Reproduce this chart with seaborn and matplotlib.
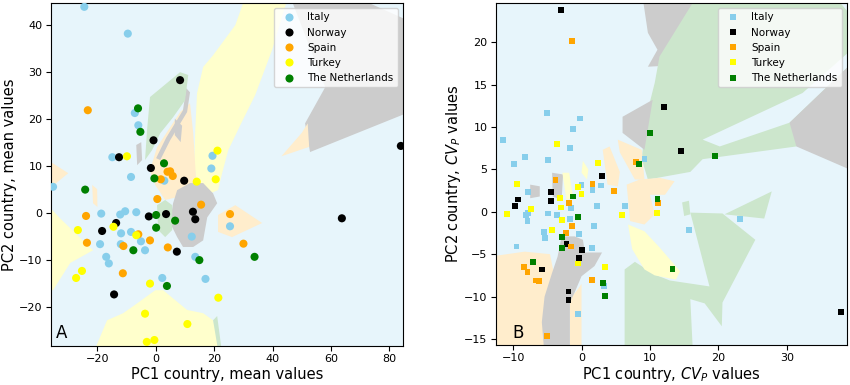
import numpy as np
import pandas as pd
import matplotlib
matplotlib.use("Agg")
import matplotlib.pyplot as plt
import matplotlib.colors as mcolors
import seaborn as sns

countries = ["Italy", "Norway", "Spain", "Turkey", "The Netherlands"]
colors = ["skyblue", "black", "orange", "yellow", "green"]

# ---- Panel A: PC scores, mean values ----
italy_mean = [(-24.5, 43.8), (-9.6, 38.1), (-7.2, 21.2), (-6.0, 18.6), (-14.9, 11.8), (19.4, 12.1),
              (19.0, 9.4), (2.9, 6.8), (-35.2, 5.5), (-8.5, 7.6), (-18.7, -0.2), (-12.2, -0.4),
              (-10.5, 0.3), (-6.7, 0.1), (12.3, -5.1), (13.5, -9.4), (-11.9, -4.4), (-8.5, -4.1),
              (-5.1, -6.1), (-3.7, -8.0), (-19.1, -6.7), (-12.0, -6.7), (-17.0, -9.4), (-16.1, -10.8),
              (2.2, -13.9), (17.0, -14.1), (25.4, -2.9)]
norway_mean = [(8.3, 28.2), (-0.8, 15.4), (-12.6, 11.8), (-1.7, 9.5), (9.7, 6.8), (-2.4, -0.8),
               (3.5, -0.3), (12.7, 0.2), (13.5, -1.4), (7.2, -8.3), (-18.4, -3.9), (-13.6, -2.2),
               (-14.3, -17.4), (63.7, -1.2), (83.9, 14.2)]
spain_mean = [(-23.3, 21.8), (4.0, 8.7), (4.9, 8.8), (5.8, 7.8), (1.7, 7.1), (0.5, 2.9), (-23.9, -0.7),
              (15.5, 1.7), (4.1, -7.4), (-6.0, -4.6), (-2.0, -5.9), (-23.6, -6.4), (-11.1, -7.1),
              (-11.3, -12.9), (25.4, -0.3), (30.0, -6.6)]
turkey_mean = [(-9.9, 12.0), (21.1, 13.2), (20.5, 7.1), (14.0, 6.6), (-26.7, -3.7), (-14.5, -3.0),
               (-6.7, -4.8), (-25.3, -12.4), (-27.3, -13.9), (-2.0, -15.1), (21.4, -18.1),
               (-3.7, -21.5), (10.8, -23.7), (-3.1, -27.5), (-0.5, -27.1)]
nl_mean = [(-6.1, 22.2), (-5.3, 17.2), (2.8, 10.5), (-0.5, 7.3), (-24.2, 4.9), (0.1, -0.5), (6.6, -1.7),
           (0.1, -3.2), (14.9, -10.1), (-7.7, -8.0), (3.8, -15.6), (33.8, -9.4)]

# ---- Panel B: PC scores, CV_P values ----
italy_cv = [(-5.1, 11.6), (-0.2, 11.0), (-1.2, 9.8), (-11.5, 8.5), (-1.7, 7.5), (-8.3, 6.5), (-9.9, 5.6),
            (-4.9, 6.1), (9.2, 6.2), (-7.8, 2.3), (0.0, 3.2), (2.8, 3.1), (1.6, 2.6), (-7.8, -0.1),
            (-8.1, -0.4), (-7.9, -1.1), (-4.9, -0.2), (-3.6, -0.4), (-1.5, 0.4), (-1.7, -0.9),
            (1.8, -1.7), (2.3, 0.7), (6.4, 0.7), (-5.5, -2.4), (-5.3, -3.1), (-0.35, -2.6),
            (1.55, -4.3), (-9.5, -4.1), (3.25, -8.75), (-0.55, -12.0), (15.7, -2.2), (23.1, -0.9)]
norway_cv = [(-3.0, 23.8), (3.0, 4.2), (12.1, 12.3), (14.6, 7.2), (-4.4, 2.3), (-9.3, 1.45), (-9.7, 0.7),
             (-4.5, 1.25), (-2.2, -3.85), (0.05, -4.55), (-0.35, -5.5), (-5.75, -6.8), (-1.9, -9.4),
             (-1.9, -10.4), (37.9, -11.8)]
spain_cv = [(-1.4, 20.1), (8.0, 5.9), (11.2, 1.0), (-3.8, 3.7), (1.6, 3.3), (4.8, 2.5), (-1.8, 1.05),
            (-1.4, -1.7), (-2.3, -2.5), (-1.6, -4.1), (-8.4, -6.5), (-7.9, -7.1), (-6.7, -8.1),
            (-6.2, -8.2), (1.55, -8.0), (-5.0, -14.6)]
turkey_cv = [(-3.6, 8.0), (2.4, 5.7), (11.0, -0.1), (-9.4, 3.3), (-0.5, 2.9), (0.0, 2.1), (-3.1, 1.6),
             (-7.4, 0.35), (-10.9, -0.3), (-3.0, 0.5), (-2.8, -1.0), (5.9, -0.4), (-4.3, -2.2),
             (-0.5, -6.1), (3.4, -6.5)]
nl_cv = [(10.0, 9.3), (8.4, 5.6), (11.1, 1.5), (-1.2, 1.8), (-0.5, -0.6), (-2.9, -3.0), (-2.9, -4.3),
         (-7.1, -5.9), (3.2, -8.4), (3.4, -9.9), (13.3, -6.7), (19.5, 6.6)]

# ---- decision regions (country, boundary vertices) ----
regions_mean = [
    ("Turkey", [(30.7, 46), (45.3, 46), (39.8, 34.6), (34.0, 25.0), (28.9, 18.6), (24.8, 13.3), (22.7, 8.4),
                (21.3, 4.8), (18.6, 4.1), (14.1, 6.5), (13.1, 10.1), (13.5, 17.6), (14.1, 25.4),
                (16.2, 31.0), (19.6, 33.5), (27.2, 39.9)]),
    ("Norway", [(46, 46), (68, 46), (86, 41), (86, 21.2), (52.8, 12.9), (51.1, 19.0), (58.0, 26.7)]),
    ("Spain", [(43, 12), (50, 17), (52, 19), (52.5, 14)]),
    ("Spain", [(0.4, 13.9), (8.3, 21.4), (11.7, 23.3), (12.8, 16.9), (13.8, 6.9), (10.0, 3.7), (3.2, 2.7),
               (-0.2, 5.9), (-2.0, 9.0)]),
    ("Norway", [(10.4, 26.5), (11.7, 25.6), (10.7, 21.4), (4.9, 15.4), (1.5, 11.2), (0.1, 11.6), (3.5, 15.9),
                (9.3, 21.8)]),
    ("Norway", [(6.5, 20), (9, 18.5), (8.5, 15), (6.5, 16.5)]),
    ("The Netherlands", [(-2.0, 24.6), (8.3, 29.9), (11.1, 29.3), (10.0, 23.9), (5.9, 20.3), (1.5, 16.9),
                         (-1.3, 13.3), (-3.7, 11.2), (-3.0, 17.6)]),
    ("Norway", [(-6.7, 14.4), (-5.0, 15.0), (-4.7, 11.2), (-6.4, 10.1)]),
    ("Norway", [(7.3, 4.8), (11.7, 6.3), (16.2, 6.3), (19.6, 4.1), (21.0, 2.0), (17.6, -1.0), (16.2, -5.9),
                (12.8, -7.3), (9.3, -7.3), (7.3, -5.2), (4.9, -2.2), (5.9, 2.0)]),
    ("The Netherlands", [(0.4, 1.6), (3.2, 2.7), (5.6, 1.6), (5.6, -3.7), (3.2, -5.2), (0.8, -3.7)]),
    ("Spain", [(21.3, -0.5), (27.2, 1.6), (36.4, -2.2), (26.1, -5.2), (21.3, -4.1)]),
    ("Spain", [(-37, 11.2), (-30.0, 8.4), (-37, 4.8)]),
    ("Spain", [(-21.8, 5.9), (-20.1, 5.0), (-20.0, 1.2), (-21.5, 2.0)]),
    ("Turkey", [(-37, 1.6), (-32.8, -1.2), (-21.5, -8.0), (-29.3, -10.7), (-35.2, -16.5), (-37, -16.5)]),
    ("Turkey", [(-21.5, -30), (-16.7, -22.9), (-11.2, -21.4), (-6.4, -19.3), (-0.2, -16.5), (2.5, -16.5),
                (10.7, -20.7), (16.2, -21.4), (19.6, -22.9), (22.7, -30)]),
    ("The Netherlands", [(19.6, -22.9), (21.0, -22.0), (22.7, -30), (21.5, -30)]),
]

regions_cv = [
    ("Norway", [(8.8, 26), (17.5, 26), (15.9, 19.7), (12.0, 17.2), (9.7, 17.1), (11.1, 19.1), (9.7, 21.1)]),
    ("The Netherlands", [(11.4, 18.3), (17.3, 26), (36.3, 26), (40, 22.6), (40, 17.9), (31.4, 7.7),
                         (17.7, 6.2), (15.9, 4.7), (9.7, 3.8), (8.8, 6.2), (9.2, 9.3), (9.7, 12.0),
                         (10.7, 15.2)]),
    ("Italy", [(17.7, 8.5), (32.3, 14.0), (40, 19.5), (40, 17.9), (30.4, 10.5), (20.2, 7.7)]),
    ("Norway", [(30.4, 10.5), (40, 17.9), (40, 4.7), (31.4, 7.7)]),
    ("Norway", [(6.0, 11.2), (10.4, 13.2), (9.2, 7.3), (6.0, 9.3)]),
    ("Spain", [(5.3, 8.5), (8.8, 7.3), (9.2, 3.8), (7.8, 3.8), (5.6, 7.0)]),
    ("Spain", [(3.1, 7.3), (4.1, 7.7), (5.6, 4.7), (5.3, 3.0), (3.8, 3.2)]),
    ("Spain", [(6.6, 3.2), (8.5, 3.8), (11.4, 4.0), (13.6, 3.6), (12.2, 2.0), (10.0, 2.0), (10.7, -0.3),
               (9.2, -1.5), (7.1, -1.1)]),
    ("The Netherlands", [(6.3, -17), (6.3, -6.8), (7.8, -5.9), (10.7, -7.4), (12.9, -8.1), (18.7, -8.8),
                         (15.9, -0.1), (20.6, -0.2), (25.4, -3.3), (20.6, -10.7), (20.5, -13.5),
                         (18.0, -10.8), (15.9, -10.3), (16.3, -17)]),
    ("The Netherlands", [(20.9, -0.3), (27.8, 2.4), (26.7, -0.8)]),
    ("The Netherlands", [(14.7, 1.1), (15.7, 1.3), (15.9, -0.3), (15.0, -0.5)]),
    ("Turkey", [(6.8, -1.5), (9.2, -2.3), (11.4, -4.2), (14.4, -7.0), (13.8, -8.0), (10.7, -7.5),
                (9.2, -6.8), (7.4, -4.4)]),
    ("Spain", [(-13.5, -5.3), (-8.3, -4.7), (-4.6, -5.0), (-3.6, -9.1), (-5.4, -10.3), (-5.6, -13.0),
               (-5.4, -17), (-13.5, -17)]),
    ("Spain", [(-1.7, -10.3), (-0.5, -9.1), (0.0, -8.5), (0.0, -17), (-1.7, -17)]),
    ("Norway", [(-2.9, -2.9), (-1.0, -2.9), (0.2, -3.3), (0.5, -4.8), (3.0, -4.8), (1.9, -6.4), (0.0, -7.6),
                (-1.0, -9.5), (-1.7, -10.7), (-1.7, -17), (-5.4, -17), (-5.8, -13.0), (-5.4, -10.0),
                (-4.3, -7.2), (-3.5, -5.3)]),
    ("Norway", [(-4.3, 4.6), (-2.7, 4.4), (-2.9, 1.4), (-4.2, 1.8)]),
    ("Norway", [(-7.5, 3.2), (-6.1, 3.0), (-6.1, 1.8), (-7.5, 1.6)]),
    ("Turkey", [(-2.8, 4.6), (-1.8, 4.6), (-1.2, 1.6), (-2.2, 1.4)]),
    ("Turkey", [(0.2, 6.0), (1.0, 5.0), (0.8, 3.8), (0.0, 4.6)]),
]

ALPHA = 0.2


def light(c, a=ALPHA):
    r = np.array(mcolors.to_rgb(c))
    return tuple(1 - a * (1 - r))


palette = dict(zip(countries, colors))


def to_frame(series):
    rows = []
    for name, pts in zip(countries, series):
        for x, y in pts:
            rows.append({"x": x, "y": y, "country": name})
    return pd.DataFrame(rows)


df_mean = to_frame([italy_mean, norway_mean, spain_mean, turkey_mean, nl_mean])
df_cv = to_frame([italy_cv, norway_cv, spain_cv, turkey_cv, nl_cv])

fig = plt.figure(figsize=(8.5, 3.85), dpi=100)
axA = fig.add_axes([0.060, 0.101, 0.414, 0.891])
axB = fig.add_axes([0.5835, 0.104, 0.413, 0.888])


def draw(ax, df, regions, marker, s, xlim, ylim):
    ax.set_facecolor(light(palette["Italy"]))
    for name, poly in regions:
        xs = [p[0] for p in poly]
        ys = [p[1] for p in poly]
        ax.fill(xs, ys, color=light(palette[name]), lw=0, zorder=0)
    sns.scatterplot(data=df, x="x", y="y", hue="country", hue_order=countries, palette=palette,
                    marker=marker, s=s, linewidth=0, ax=ax, zorder=3)
    ax.set_xlim(*xlim)
    ax.set_ylim(*ylim)
    ax.tick_params(labelsize=8, pad=2.5)
    ax.legend(loc="upper right", fontsize=7.5, framealpha=0.8)


draw(axA, df_mean, regions_mean, "o", 34, (-35.9, 84.6), (-28.4, 44.6))
draw(axB, df_cv, regions_cv, "s", 18, (-12.5, 38.8), (-15.7, 24.6))

axA.set_xticks([-20, 0, 20, 40, 60, 80])
axA.set_yticks([-20, -10, 0, 10, 20, 30, 40])
axB.set_xticks([-10, 0, 10, 20, 30])
axB.set_yticks([-15, -10, -5, 0, 5, 10, 15, 20])

axA.set_xlabel("PC1 country, mean values", fontsize=10.5, labelpad=1.5)
axA.set_ylabel("PC2 country, mean values", fontsize=10.5, labelpad=1.5)
axB.set_xlabel("PC1 country, $CV_P$ values", fontsize=10.5, labelpad=1.0)
axB.set_ylabel("PC2 country, $CV_P$ values", fontsize=10.5, labelpad=1.0)

axA.text(0.014, 0.012, "A", transform=axA.transAxes, fontsize=12, ha="left", va="bottom")
axB.text(0.046, 0.01, "B", transform=axB.transAxes, fontsize=12, ha="left", va="bottom")

fig.savefig("out.png", dpi=100)
